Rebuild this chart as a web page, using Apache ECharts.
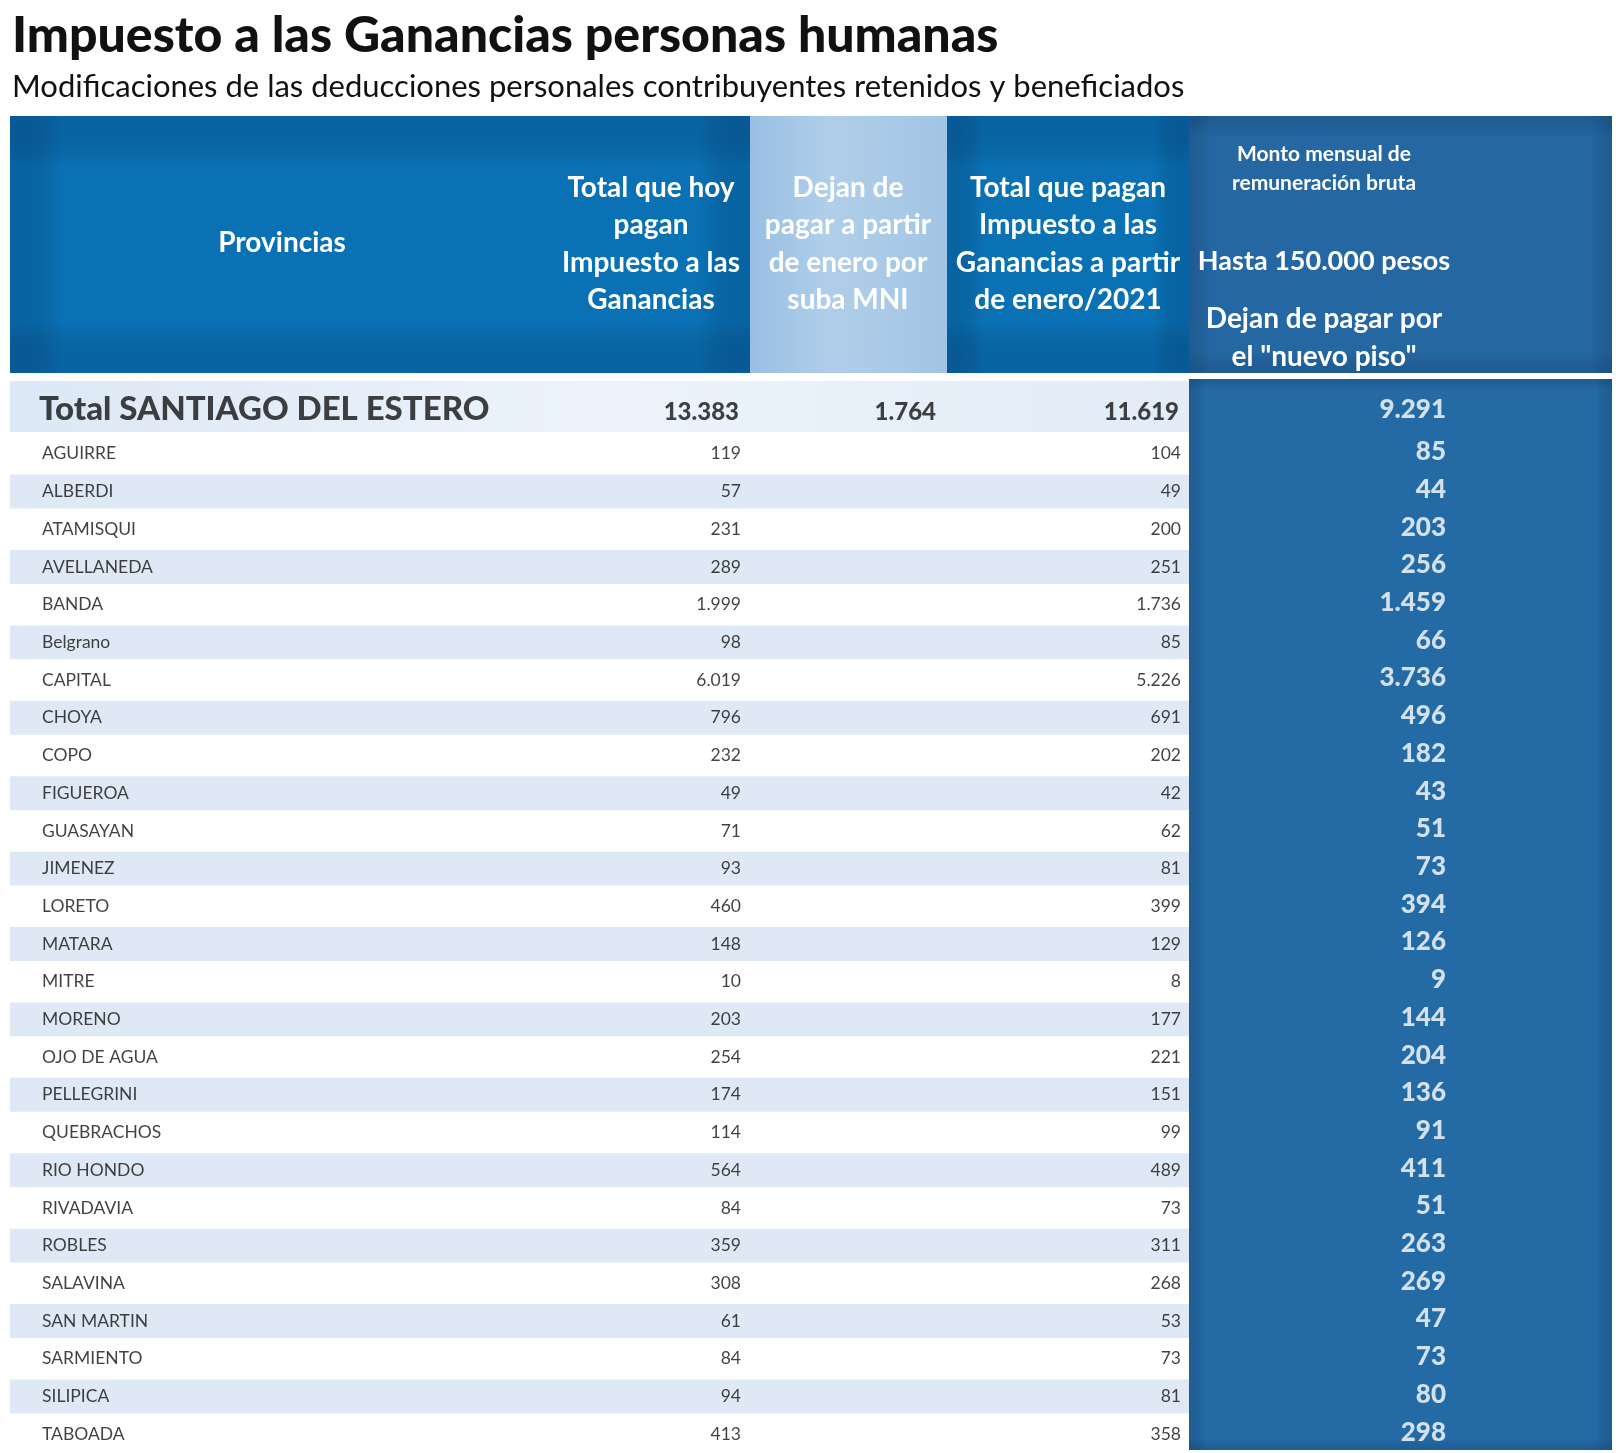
<!DOCTYPE html>
<html><head><meta charset="utf-8">
<script src="https://cdn.jsdelivr.net/npm/echarts@6/dist/echarts.min.js"></script>
<style>html,body{margin:0;padding:0;background:#fff}#c{width:1624px;height:1453px}</style>
</head><body><div id="c"></div>
<script>
// ---------- DATA ----------
const titleText = 'Impuesto a las Ganancias personas humanas';
const subtitleText = 'Modificaciones de las deducciones personales contribuyentes retenidos y beneficiados';
const headerProvincias = 'Provincias';
const headerHoy = ['Total que hoy', 'pagan', 'Impuesto a las', 'Ganancias'];
const headerDejanMNI = ['Dejan de', 'pagar a partir', 'de enero por', 'suba MNI'];
const headerEnero = ['Total que pagan', 'Impuesto a las', 'Ganancias a partir', 'de enero/2021'];
const headerMonto = ['Monto mensual de', 'remuneración bruta'];
const headerHasta = 'Hasta 150.000 pesos';
const headerPiso = ['Dejan de pagar por', 'el "nuevo piso"'];

const totalName = 'Total SANTIAGO DEL ESTERO';
const totalHoy = 13383;
const totalDejanMNI = 1764;
const totalEnero = 11619;
const totalPiso = 9291;

const provincias = ['AGUIRRE','ALBERDI','ATAMISQUI','AVELLANEDA','BANDA','Belgrano','CAPITAL','CHOYA','COPO',
  'FIGUEROA','GUASAYAN','JIMENEZ','LORETO','MATARA','MITRE','MORENO','OJO DE AGUA','PELLEGRINI','QUEBRACHOS',
  'RIO HONDO','RIVADAVIA','ROBLES','SALAVINA','SAN MARTIN','SARMIENTO','SILIPICA','TABOADA'];
const pagaHoy = [119,57,231,289,1999,98,6019,796,232,49,71,93,460,148,10,203,254,174,114,564,84,359,308,61,84,94,413];
const pagaEnero = [104,49,200,251,1736,85,5226,691,202,42,62,81,399,129,8,177,221,151,99,489,73,311,268,53,73,81,358];
const dejanPiso = [85,44,203,256,1459,66,3736,496,182,43,51,73,394,126,9,144,204,136,91,411,51,263,269,47,73,80,298];

// ---------- LAYOUT / STYLE ----------
const FONT = 'Lato';
const X_L = 10, X_HOY_END = 750, X_MNI_END = 947, X_ENERO_END = 1189, X_R = 1612;
const X_NAME = 42, X_HOY = 741, X_MNI = 936, X_ENERO = 1181, X_PISO = 1446;
const HEAD_TOP = 116, HEAD_BOT = 373;

const fmt = v => String(v).replace(/\B(?=(\d{3})+(?!\d))/g, '.');

const chart = echarts.init(document.getElementById('c'), null, {renderer: 'canvas'});

function textSeries(gridIdx, data, opts) {
  return {
    type: 'scatter', xAxisIndex: gridIdx, yAxisIndex: gridIdx, symbolSize: 0, z: 5,
    silent: true, animation: false,
    data: data,
    label: Object.assign({
      show: true, distance: 0, fontFamily: FONT,
      formatter: p => p.name
    }, opts)
  };
}

const rowNameData = provincias.map((n, i) => ({name: n, value: [X_NAME, i]}));
const hoyData = pagaHoy.map((v, i) => ({name: fmt(v), value: [X_HOY, i]}));
const eneroData = pagaEnero.map((v, i) => ({name: fmt(v), value: [X_ENERO, i]}));
const pisoData = dejanPiso.map((v, i) => ({name: fmt(v), value: [X_PISO, i]}));

const headerText = (x, y, lines, size, lh) => ({
  type: 'text', z: 4, silent: true,
  style: {text: Array.isArray(lines) ? lines.join('\n') : lines, x: x, y: y, fill: '#ffffff',
    font: 'bold ' + size + 'px ' + FONT, align: 'center', verticalAlign: 'middle', lineHeight: lh || size * 1.3}
});

// block with a soft darker vignette at the edges
function vignetteBlock(x0, x1, y0, y1, base, edge, eh, ev) {
  const shape = {x: x0, y: y0, width: x1 - x0, height: y1 - y0};
  const t = 'rgba(0,0,0,0)';
  return [
    {type: 'rect', z: 1, silent: true, shape: shape, style: {fill: base}},
    {type: 'rect', z: 2, silent: true, shape: shape, style: {fill: {type: 'linear', x: 0, y: 0, x2: 1, y2: 0, colorStops: [
      {offset: 0, color: edge}, {offset: eh, color: t}, {offset: 1 - eh, color: t}, {offset: 1, color: edge}]}}},
    {type: 'rect', z: 2, silent: true, shape: shape, style: {fill: {type: 'linear', x: 0, y: 0, x2: 0, y2: 1, colorStops: [
      {offset: 0, color: edge}, {offset: ev, color: t}, {offset: 1 - ev, color: t}, {offset: 1, color: edge}]}}}
  ];
}

const option = {
  animation: false,
  backgroundColor: '#ffffff',
  title: [
    {text: titleText, left: 12, top: 11, padding: 0,
      textStyle: {fontFamily: FONT, fontWeight: 900, fontSize: 50, color: '#111111'}},
    {text: subtitleText, left: 12, top: 71, padding: 0,
      textStyle: {fontFamily: FONT, fontWeight: 'normal', fontSize: 31, color: '#111111'}}
  ],
  graphic: [].concat(
    vignetteBlock(X_L, X_HOY_END, HEAD_TOP, HEAD_BOT, '#0a71b5', 'rgba(6,70,130,0.3)', 0.07, 0.2),
    [{type: 'rect', z: 1, silent: true, shape: {x: X_HOY_END, y: HEAD_TOP, width: X_MNI_END - X_HOY_END, height: HEAD_BOT - HEAD_TOP},
      style: {fill: {type: 'linear', x: 0, y: 0, x2: 1, y2: 0, colorStops: [
        {offset: 0, color: '#98bfe3'}, {offset: 0.4, color: '#b0cee9'}, {offset: 1, color: '#a2c5e5'}]}}}],
    vignetteBlock(X_MNI_END, X_ENERO_END, HEAD_TOP, HEAD_BOT, '#0a71b5', 'rgba(6,70,130,0.3)', 0.15, 0.2),
    vignetteBlock(X_ENERO_END, X_R, HEAD_TOP, HEAD_BOT, '#2467a2', 'rgba(10,50,90,0.2)', 0.05, 0.08),
    vignetteBlock(X_ENERO_END, X_R, 379, 1450, '#246ba6', 'rgba(10,50,90,0.22)', 0.04, 0.01),
    [
      headerText(282, 243, headerProvincias, 28),
      headerText(651, 244, headerHoy, 28, 37.5),
      headerText(848, 244, headerDejanMNI, 28, 37.5),
      headerText(1068, 244, headerEnero, 28, 37.5),
      headerText(1324, 154, headerMonto[0], 21),
      headerText(1324, 183, headerMonto[1], 21),
      headerText(1324, 261, headerHasta, 27),
      headerText(1324, 319, headerPiso[0], 28),
      headerText(1324, 357, headerPiso[1], 28)
    ]
  ),
  grid: [
    {left: 0, right: 0, top: 381, height: 51},
    {left: 0, right: 0, top: 435, height: 1018}
  ],
  xAxis: [
    {gridIndex: 0, type: 'value', min: 0, max: 1624, show: false},
    {gridIndex: 1, type: 'value', min: 0, max: 1624, show: false}
  ],
  yAxis: [
    {gridIndex: 0, type: 'category', data: [totalName], inverse: true, show: false},
    {gridIndex: 1, type: 'category', data: provincias, inverse: true, show: false}
  ],
  series: [
    // total row background
    {type: 'custom', xAxisIndex: 0, yAxisIndex: 0, z: 2, silent: true, data: [[0, 0]],
      renderItem: (params, api) => {
        const p0 = api.coord([X_L, 0]);
        const p1 = api.coord([X_ENERO_END, 0]);
        const h = api.size([0, 1])[1];
        return {type: 'rect', shape: {x: p0[0], y: p0[1] - h / 2, width: p1[0] - p0[0], height: h},
          style: {fill: {type: 'linear', x: 0, y: 0, x2: 1, y2: 0, colorStops: [
            {offset: 0, color: '#dce8f5'}, {offset: 0.5, color: '#ecf3fb'}, {offset: 1, color: '#e2ecf7'}]}}};
      }},
    // zebra stripes
    {type: 'custom', xAxisIndex: 1, yAxisIndex: 1, z: 2, silent: true,
      data: provincias.map((n, i) => [0, i]),
      renderItem: (params, api) => {
        const i = api.value(1);
        if (i % 2 === 0) return null;
        const p0 = api.coord([X_L, i]);
        const p1 = api.coord([X_ENERO_END, i]);
        const h = api.size([0, 1])[1] * 0.9;
        return {type: 'rect', shape: {x: p0[0], y: p0[1] - h / 2, width: p1[0] - p0[0], height: h},
          style: {fill: '#dfe9f5'}};
      }},
    // total row texts
    textSeries(0, [{name: totalName, value: [X_NAME - 3, 0]}],
      {position: 'right', fontSize: 33, fontWeight: 900, color: '#111111', offset: [0, 3]}),
    textSeries(0, [{name: fmt(totalHoy), value: [X_HOY - 2, 0]}, {name: fmt(totalDejanMNI), value: [X_MNI, 0]},
      {name: fmt(totalEnero), value: [X_ENERO - 2, 0]}],
      {position: 'left', fontSize: 24, fontWeight: 900, color: '#111111', offset: [0, 6]}),
    textSeries(0, [{name: fmt(totalPiso), value: [X_PISO, 0]}],
      {position: 'left', fontSize: 26, fontWeight: 900, color: '#ffffff', offset: [0, 3]}),
    // rows
    textSeries(1, rowNameData, {position: 'right', fontSize: 17.5, color: '#111111'}),
    textSeries(1, hoyData, {position: 'left', fontSize: 17.5, color: '#111111'}),
    textSeries(1, eneroData, {position: 'left', fontSize: 17.5, color: '#111111'}),
    textSeries(1, pisoData, {position: 'left', fontSize: 26, fontWeight: 900, color: '#ffffff', offset: [0, -2]})
  ]
};
chart.setOption(option);
</script>
</body></html>
